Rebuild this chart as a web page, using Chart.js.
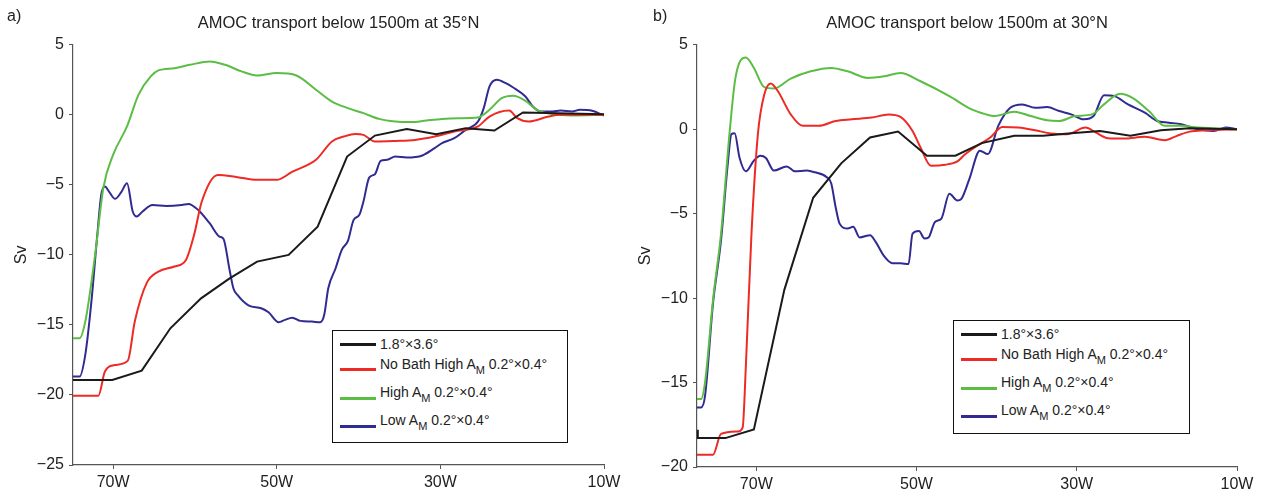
<!DOCTYPE html>
<html>
<head>
<meta charset="utf-8">
<script src="https://cdn.jsdelivr.net/npm/chart.js@4.4.0/dist/chart.umd.min.js"></script>
<style>
  body { margin: 0; background: #fff; font-family: "Liberation Sans", Arial, sans-serif; }
  #wrap { position: relative; width: 1263px; height: 494px; }
  .panel { position: absolute; top: 0; height: 494px; }
  .tag { position: absolute; top: 7px; font-size: 16px; color: #222; }
  .leg { position: absolute; border: 1.5px solid #111; background: #fff; font-size: 14px; color: #222; box-sizing: border-box; }
  .leg .ln { position: absolute; left: 7px; width: 36px; height: 3px; }
  .leg .tx { position: absolute; left: 47px; white-space: nowrap; line-height: 16px; }
  .leg sub { font-size: 11px; vertical-align: -5px; }
</style>
</head>
<body>
<div id="wrap">
  <div class="panel" style="left:0;width:630px"><canvas id="c35"></canvas></div>
  <div class="panel" style="left:630px;width:633px"><canvas id="c30"></canvas></div>
  <div class="tag" style="left:7px">a)</div>
  <div class="tag" style="left:653px">b)</div>
  <div class="leg" id="leg35" style="left:332px;top:330px;width:236px;height:113px"></div>
  <div class="leg" id="leg30" style="left:953px;top:320px;width:237px;height:114px"></div>
</div>
<script>
// longitude (negative = west), transport in Sv
const xTicks = [-70, -50, -30, -10];
const seriesNames = ['1.8°×3.6°', 'No Bath High A_M 0.2°×0.4°', 'High A_M 0.2°×0.4°', 'Low A_M 0.2°×0.4°'];
const seriesColors = ['#1a1a1a', '#ee2a24', '#5cbd45', '#2f2b92'];

// 35N
const coarse35 = [[-74.9,-18.93],[-70.1,-18.93],[-66.5,-18.26],[-63.0,-15.24],[-59.25,-13.1],[-55.8,-11.7],[-52.4,-10.48],[-48.55,-10.0],[-45.0,-7.98],[-41.4,-2.98],[-38.0,-1.48],[-34.1,-1.02],[-30.5,-1.38],[-26.9,-0.95],[-23.4,-1.12],[-19.9,0.17],[-10,0.05]];
const noBath35 = [[-74.9,-20.05],[-71.8,-20.05],[-71.0,-18.33],[-69.76,-17.86],[-68.2,-17.55],[-67.35,-14.76],[-65.9,-12.02],[-64.46,-11.19],[-62.5,-10.83],[-61.1,-10.36],[-60.1,-8.57],[-59.16,-6.19],[-57.2,-4.29],[-54.8,-4.45],[-52.4,-4.64],[-50.0,-4.64],[-48.07,-4.05],[-45.2,-3.21],[-43.25,-1.9],[-41.8,-1.55],[-40.4,-1.36],[-39.4,-1.43],[-38.0,-1.9],[-35.5,-1.86],[-33.1,-1.79],[-30.7,-1.55],[-28.3,-1.19],[-25.4,-0.83],[-24.0,-0.12],[-21.6,0.31],[-20.6,-0.24],[-19.2,-0.48],[-16.75,-0.12],[-15.3,0],[-10,0]];
const high35 = [[-74.9,-15.95],[-74.1,-15.95],[-73.4,-14.76],[-72.2,-10.0],[-71.2,-5.24],[-70.0,-2.86],[-68.3,-0.83],[-66.9,1.43],[-65.4,2.74],[-64.46,3.17],[-62.5,3.33],[-60.6,3.57],[-58.2,3.81],[-56.3,3.57],[-54.3,3.1],[-52.4,2.81],[-50.0,2.98],[-47.6,2.81],[-45.2,1.79],[-43.25,0.95],[-41.3,0.48],[-39.4,0.12],[-37.5,-0.29],[-35.5,-0.48],[-33.6,-0.52],[-31.7,-0.4],[-29.8,-0.29],[-27.8,-0.24],[-25.4,-0.19],[-24.0,0.36],[-22.5,1.19],[-21.1,1.36],[-19.6,1.0],[-18.2,0.36],[-16.3,0.05],[-13.9,-0.05],[-10,0]];
const low35 = [[-74.9,-18.69],[-74.1,-18.69],[-73.4,-17.14],[-72.65,-13.33],[-71.93,-8.57],[-71.45,-5.71],[-71.0,-5.12],[-70.5,-5.48],[-69.76,-6.0],[-69.0,-5.52],[-68.3,-4.88],[-67.6,-6.9],[-67.1,-7.26],[-66.4,-6.9],[-65.2,-6.43],[-63.5,-6.5],[-61.6,-6.43],[-60.8,-6.36],[-59.6,-6.79],[-58.2,-7.74],[-57.0,-8.69],[-56.5,-8.86],[-55.8,-10.95],[-55.3,-12.38],[-54.8,-12.86],[-53.4,-13.62],[-51.9,-13.81],[-51.0,-14.1],[-49.76,-14.81],[-49.0,-14.64],[-48.1,-14.48],[-47.1,-14.71],[-45.7,-14.76],[-44.7,-14.81],[-44.2,-14.29],[-43.7,-12.38],[-42.8,-10.95],[-42.05,-9.64],[-41.3,-9.0],[-40.6,-7.5],[-39.9,-7.14],[-39.4,-6.19],[-38.7,-4.48],[-38.0,-4.24],[-37.3,-3.29],[-36.5,-3.21],[-35.5,-2.98],[-34.1,-3.05],[-32.2,-2.9],[-30.7,-2.38],[-29.8,-2.02],[-28.3,-1.67],[-26.9,-1.07],[-25.4,-0.48],[-24.7,0.48],[-24.0,2.02],[-23.1,2.5],[-22.0,2.26],[-21.1,1.95],[-19.6,1.31],[-18.7,0.6],[-17.7,0.24],[-16.3,0.24],[-15.3,0.31],[-13.9,0.24],[-12.95,0.36],[-11.45,0.29],[-10,-0.05]];

// 30N
const coarse30 = [[-77.4,-17.8],[-77.3,-18.29],[-73.86,-18.29],[-70.3,-17.78],[-66.5,-9.51],[-62.9,-4.06],[-59.4,-2.02],[-55.8,-0.49],[-52.3,-0.14],[-48.7,-1.57],[-45.15,-1.57],[-41.85,-0.82],[-37.8,-0.39],[-34.2,-0.39],[-30.7,-0.24],[-27.1,-0.1],[-23.3,-0.39],[-19.5,-0.06],[-15.9,0.06],[-10,0]];
const noBath30 = [[-77.4,-19.27],[-75.4,-19.27],[-74.4,-18.04],[-72.3,-17.9],[-71.7,-17.65],[-71.3,-14.0],[-70.6,-6.18],[-69.8,-0.29],[-69.0,2.06],[-68.2,2.71],[-67.3,2.25],[-65.7,0.88],[-64.2,0.2],[-62.2,0.2],[-60.1,0.49],[-58.1,0.59],[-55.6,0.69],[-53.5,0.88],[-52.0,0.73],[-50.5,-0.1],[-49.5,-1.08],[-48.2,-2.16],[-46.4,-2.1],[-44.9,-1.9],[-43.9,-1.47],[-42.4,-0.98],[-40.8,-0.49],[-39.3,0.14],[-37.3,0.1],[-35.2,-0.06],[-33.2,-0.25],[-31.2,-0.29],[-28.9,0.1],[-27.6,-0.2],[-26.1,-0.53],[-24.1,-0.55],[-21.5,-0.45],[-19.0,-0.65],[-17.5,-0.39],[-15.9,-0.14],[-13.9,-0.06],[-10,0]];
const high30 = [[-77.4,-15.98],[-76.9,-15.98],[-76.4,-15.0],[-75.4,-10.1],[-74.4,-6.18],[-73.35,-0.29],[-72.6,3.04],[-71.3,4.25],[-70.3,3.63],[-69.0,2.49],[-67.8,2.41],[-65.7,3.0],[-63.2,3.43],[-60.65,3.63],[-58.6,3.43],[-56.1,3.04],[-54.0,3.14],[-52.0,3.33],[-49.5,2.84],[-45.9,1.96],[-43.4,1.24],[-41.3,0.88],[-40.3,0.78],[-37.8,1.04],[-35.75,0.78],[-33.7,0.53],[-32.2,0.49],[-30.2,0.78],[-28.1,0.88],[-26.6,1.47],[-24.6,2.1],[-23.05,1.86],[-21.0,1.08],[-19.0,0.2],[-16.95,0.2],[-14.9,0.1],[-10,0]];
const low30 = [[-77.4,-16.47],[-76.9,-16.47],[-76.4,-15.8],[-75.4,-10.3],[-74.4,-6.57],[-73.6,-2.25],[-73.1,-0.29],[-72.7,-0.24],[-72.1,-1.67],[-71.3,-2.49],[-70.3,-1.86],[-69.5,-1.57],[-68.8,-1.7],[-67.8,-2.45],[-66.2,-2.2],[-65.2,-2.49],[-63.7,-2.45],[-62.7,-2.55],[-61.2,-2.84],[-60.65,-3.2],[-60.1,-4.6],[-59.6,-5.59],[-58.6,-5.88],[-57.9,-5.78],[-57.1,-6.41],[-55.8,-6.27],[-55.1,-6.67],[-54.0,-7.55],[-53.0,-7.94],[-52.0,-7.94],[-51.0,-7.98],[-50.5,-6.18],[-49.7,-6.02],[-49.0,-6.47],[-48.5,-6.41],[-47.7,-5.49],[-46.9,-5.29],[-45.9,-3.82],[-44.9,-4.22],[-44.4,-4.12],[-43.4,-2.94],[-42.1,-1.27],[-41.1,-1.47],[-39.8,0.2],[-38.3,1.27],[-36.8,1.47],[-35.2,1.27],[-33.7,1.31],[-32.2,1.08],[-30.7,0.88],[-29.1,0.59],[-27.9,0.78],[-26.6,2.02],[-25.3,1.96],[-23.6,1.47],[-21.5,0.98],[-20.0,0.49],[-18.5,0.39],[-16.95,0.29],[-14.9,0],[-12.9,-0.1],[-11.4,0.1],[-10,0]];

const FONT = '"Liberation Sans", Arial, sans-serif';
Chart.defaults.font.family = FONT;
Chart.defaults.color = '#222';

const minus = v => v < 0 ? '\u2212' + (-v) : '' + v;

function makeChart(id, title, xmin, ymin, series, axisW, axisH, svPad) {
  new Chart(document.getElementById(id), {
    type: 'line',
    data: {
      datasets: series.map((s, i) => ({
        label: seriesNames[i].replace('_', ''),
        data: s.map(p => ({x: p[0], y: p[1]})),
        borderColor: seriesColors[i],
        borderWidth: 2,
        pointRadius: 0,
        tension: i === 0 ? 0 : 0.4,
        cubicInterpolationMode: i === 0 ? 'default' : 'monotone'
      }))
    },
    options: {
      responsive: false,
      animation: false,
      layout: {padding: {left: 0, right: 26, top: 0, bottom: 0}},
      plugins: {
        legend: {display: false},
        tooltip: {enabled: false},
        title: {display: true, text: title, fullSize: false, font: {size: 16.5, weight: 'normal'}, color: '#222', padding: {top: 14, bottom: 11}}
      },
      scales: {
        x: {
          type: 'linear', min: xmin, max: -10,
          afterBuildTicks: s => { s.ticks = xTicks.map(v => ({value: v})); },
          afterFit: s => { s.height = axisH; },
          ticks: {callback: v => (-v) + 'W', font: {size: 16}, color: '#222', padding: 4, maxRotation: 0},
          grid: {drawOnChartArea: false, tickLength: 4, color: '#555'},
          border: {color: '#555', width: 1.2}
        },
        y: {
          min: ymin, max: 5,
          afterFit: s => { s.width = axisW; },
          ticks: {stepSize: 5, callback: v => minus(v), font: {size: 16}, color: '#222', padding: 5},
          grid: {drawOnChartArea: false, tickLength: 4, color: '#555'},
          border: {color: '#555', width: 1.2},
          title: {display: true, text: 'Sv', font: {size: 16}, color: '#222', padding: {top: svPad, bottom: 0}}
        }
      }
    }
  });
}

const c35 = document.getElementById('c35');
c35.width = 630; c35.height = 494;
const c30 = document.getElementById('c30');
c30.width = 633; c30.height = 494;

makeChart('c35', 'AMOC transport below 1500m at 35°N', -74.9, -25, [coarse35, noBath35, high35, low35], 73, 29, 12);
makeChart('c30', 'AMOC transport below 1500m at 30°N', -77.4, -20, [coarse30, noBath30, high30, low30], 67, 27, 6);

// legend boxes (text with subscript M)
const lineY = [13, 38, 67, 95];
const textY = [5, 25, 53, 81];
function buildLegend(id) {
  const box = document.getElementById(id);
  seriesNames.forEach((name, i) => {
    const ln = document.createElement('div');
    ln.className = 'ln';
    ln.style.top = (lineY[i] - 1) + 'px';
    ln.style.background = seriesColors[i];
    box.appendChild(ln);
    const tx = document.createElement('div');
    tx.className = 'tx';
    tx.style.top = textY[i] + 'px';
    tx.innerHTML = name.replace('_M', '<sub>M</sub>');
    box.appendChild(tx);
  });
}
buildLegend('leg35');
buildLegend('leg30');
</script>
</body>
</html>
